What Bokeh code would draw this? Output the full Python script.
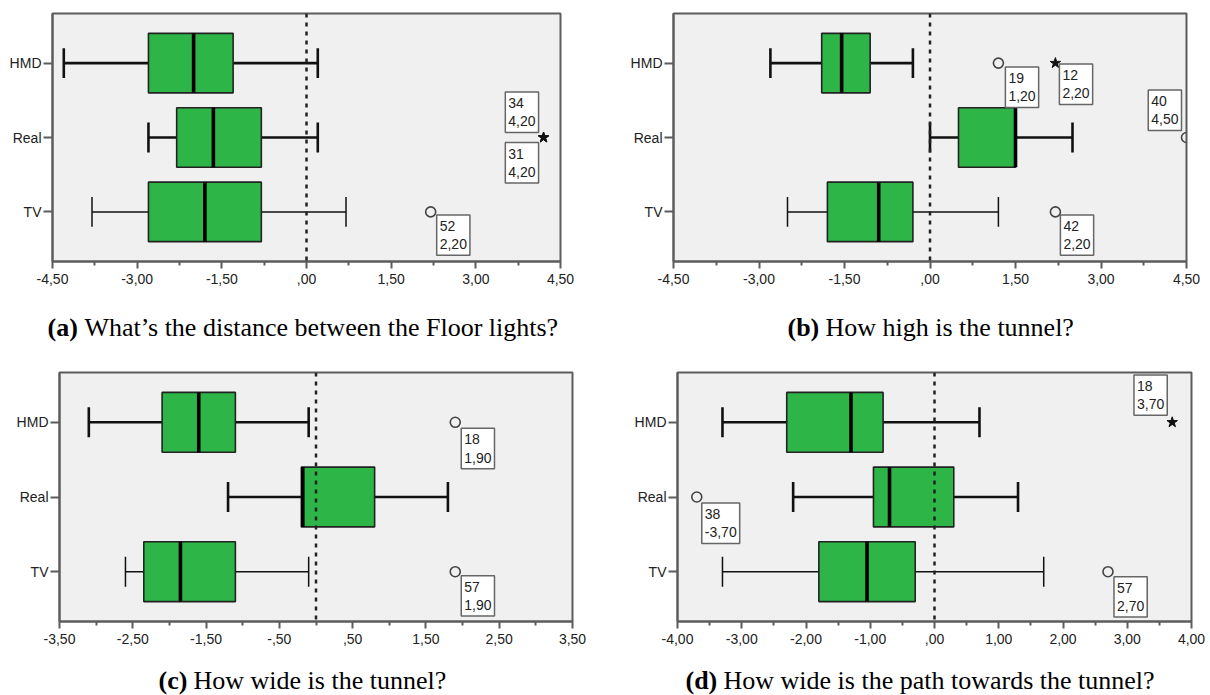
from bokeh.plotting import figure
from bokeh.models import Range1d, FixedTicker, Span, Label
from bokeh.layouts import column, row
from bokeh.embed import file_html
from bokeh.resources import INLINE

# ---------------- data ----------------
groups = ["HMD", "Real", "TV"]

# (a) distance between floor lights
a_whisker_low = [-4.3, -2.8, -3.8]
a_q1 = [-2.8, -2.3, -2.8]
a_median = [-2.0, -1.65, -1.8]
a_q3 = [-1.3, -0.8, -0.8]
a_whisker_high = [0.2, 0.2, 0.7]
a_out_group = ["Real", "Real", "TV"]
a_out_value = [4.2, 4.2, 2.2]
a_out_id = ["34", "31", "52"]
a_out_kind = ["star", "star", "circle"]
a_ticks = [-4.5, -3.0, -1.5, 0.0, 1.5, 3.0, 4.5]
a_tick_labels = ["-4,50", "-3,00", "-1,50", ",00", "1,50", "3,00", "4,50"]
a_tag = "(a)"
a_caption = "What\u2019s the distance between the Floor lights?"

# (b) how high is the tunnel
b_whisker_low = [-2.8, 0.0, -2.5]
b_q1 = [-1.9, 0.5, -1.8]
b_median = [-1.55, 1.5, -0.9]
b_q3 = [-1.05, 1.5, -0.3]
b_whisker_high = [-0.3, 2.5, 1.2]
b_out_group = ["HMD", "HMD", "Real", "TV"]
b_out_value = [1.2, 2.2, 4.5, 2.2]
b_out_id = ["19", "12", "40", "42"]
b_out_kind = ["circle", "star", "circle", "circle"]
b_ticks = [-4.5, -3.0, -1.5, 0.0, 1.5, 3.0, 4.5]
b_tick_labels = ["-4,50", "-3,00", "-1,50", ",00", "1,50", "3,00", "4,50"]
b_tag = "(b)"
b_caption = "How high is the tunnel?"

# (c) how wide is the tunnel
c_whisker_low = [-3.1, -1.2, -2.6]
c_q1 = [-2.1, -0.2, -2.35]
c_median = [-1.6, -0.18, -1.85]
c_q3 = [-1.1, 0.8, -1.1]
c_whisker_high = [-0.1, 1.8, -0.1]
c_out_group = ["HMD", "TV"]
c_out_value = [1.9, 1.9]
c_out_id = ["18", "57"]
c_out_kind = ["circle", "circle"]
c_ticks = [-3.5, -2.5, -1.5, -0.5, 0.5, 1.5, 2.5, 3.5]
c_tick_labels = ["-3,50", "-2,50", "-1,50", "-,50", ",50", "1,50", "2,50", "3,50"]
c_tag = "(c)"
c_caption = "How wide is the tunnel?"

# (d) how wide is the path towards the tunnel
d_whisker_low = [-3.3, -2.2, -3.3]
d_q1 = [-2.3, -0.95, -1.8]
d_median = [-1.3, -0.7, -1.05]
d_q3 = [-0.8, 0.3, -0.3]
d_whisker_high = [0.7, 1.3, 1.7]
d_out_group = ["HMD", "Real", "TV"]
d_out_value = [3.7, -3.7, 2.7]
d_out_id = ["18", "38", "57"]
d_out_kind = ["star", "circle", "circle"]
d_ticks = [-4.0, -3.0, -2.0, -1.0, 0.0, 1.0, 2.0, 3.0, 4.0]
d_tick_labels = ["-4,00", "-3,00", "-2,00", "-1,00", ",00", "1,00", "2,00", "3,00", "4,00"]
d_tag = "(d)"
d_caption = "How wide is the path towards the tunnel?"

# ---------------- layout / style ----------------
GREEN = "#2eb548"
PLOT_BG = "#f0f0f0"
FRAME = "#5c5c5c"
SANS = "Liberation Sans"
SERIF = "Liberation Serif"
whisker_width = {"HMD": 2.6, "Real": 2.6, "TV": 1.5}

# outlier label boxes: (anchor, dx, dy) in pixels, dy positive = up
a_place = [("bottom_right", -5, 5), ("top_right", -5, -5), ("top_left", 6, -3)]
b_place = [("top_left", 7, -4), ("top_left", 4, -1), ("bottom_right", -5, 7), ("top_left", 5, -3)]
c_place = [("top_left", 6, -6), ("top_left", 6, -4)]
d_place = [("bottom_right", -5, 7), ("top_left", 5, -6), ("top_left", 6, -5)]

# plot geometry: width, height, borders
a_geom = dict(w=605, h=300, l=52, r=45, t=13, b=38)
b_geom = dict(w=605, h=300, l=68, r=24, t=9, b=39)
c_geom = dict(w=605, h=310, l=59, r=33, t=27, b=30)
d_geom = dict(w=605, h=310, l=72, r=19, t=24, b=34)

# caption geometry: height, tag x, text x, baseline y from top
a_cap = dict(h=45, tag_x=47, text_x=84, base=27)
b_cap = dict(h=45, tag_x=182, text_x=220, base=27)
c_cap = dict(h=40, tag_x=158, text_x=193, base=25)
d_cap = dict(h=40, tag_x=80, text_x=118, base=25)


def fmt(v):
    s = f"{v:.2f}".replace(".", ",")
    if s.startswith("0,"):
        s = s[1:]
    if s.startswith("-0,"):
        s = "-" + s[2:]
    return s


def make_panel(wl, q1, med, q3, wh, og, ov, oid, okind, ticks, tick_labels,
               place, geom):
    n = len(groups)
    ypos = {g: n - i for i, g in enumerate(groups)}
    ys = [ypos[g] for g in groups]
    p = figure(width=geom["w"], height=geom["h"],
               x_range=Range1d(ticks[0], ticks[-1]),
               y_range=Range1d(1 - 2 / 3, n + 2 / 3),
               output_backend="svg", toolbar_location=None,
               min_border_left=geom["l"], min_border_right=geom["r"],
               min_border_top=geom["t"], min_border_bottom=geom["b"])
    p.background_fill_color = PLOT_BG
    p.border_fill_color = "white"
    p.outline_line_color = FRAME
    p.outline_line_width = 2
    p.xgrid.visible = False
    p.ygrid.visible = False

    minor = [(ticks[i] + ticks[i + 1]) / 2 for i in range(len(ticks) - 1)]
    p.xaxis.ticker = FixedTicker(ticks=ticks, minor_ticks=minor)
    p.xaxis.major_label_overrides = {t: l for t, l in zip(ticks, tick_labels)}
    p.yaxis.ticker = FixedTicker(ticks=ys, minor_ticks=[])
    p.yaxis.major_label_overrides = {ypos[g]: g for g in groups}
    for ax in (p.xaxis[0], p.yaxis[0]):
        ax.axis_line_color = FRAME
        ax.axis_line_width = 2
        ax.major_tick_line_color = FRAME
        ax.minor_tick_line_color = FRAME
        ax.major_tick_line_width = 2
        ax.minor_tick_line_width = 2
        ax.major_tick_in = 0
        ax.minor_tick_in = 0
        ax.major_label_text_font = SANS
        ax.major_label_text_font_size = "14px"
        ax.major_label_text_color = "#222222"
    p.xaxis.major_tick_out = 7
    p.xaxis.minor_tick_out = 4
    p.xaxis.major_label_standoff = 5
    p.yaxis.major_tick_out = 9
    p.yaxis.major_label_standoff = 2

    # whiskers
    for g, lo, a, b, hi in zip(groups, wl, q1, q3, wh):
        y = ypos[g]
        lw = whisker_width[g]
        p.segment(x0=[lo, b], y0=[y, y], x1=[a, hi], y1=[y, y],
                  line_color="#111111", line_width=lw)
        p.segment(x0=[lo, hi], y0=[y - 0.2, y - 0.2], x1=[lo, hi], y1=[y + 0.2, y + 0.2],
                  line_color="#111111", line_width=lw)
    # boxes
    p.hbar(y=ys, left=q1, right=q3, height=0.8, fill_color=GREEN,
           line_color="#222222", line_width=1.6)
    # medians
    p.segment(x0=med, y0=[y - 0.4 for y in ys], x1=med, y1=[y + 0.4 for y in ys],
              line_color="#000000", line_width=3.6)

    # outliers
    cx = [v for v, k in zip(ov, okind) if k == "circle"]
    cy = [ypos[g] for g, k in zip(og, okind) if k == "circle"]
    sx = [v for v, k in zip(ov, okind) if k == "star"]
    sy = [ypos[g] for g, k in zip(og, okind) if k == "star"]
    if cx:
        p.scatter(x=cx, y=cy, marker="circle", size=10, fill_color=None,
                  line_color="#444444", line_width=1.6)
    if sx:
        p.scatter(x=sx, y=sy, marker="star", size=11, fill_color="#111111",
                  line_color="#111111")

    # zero reference line
    p.add_layout(Span(location=0, dimension="height", line_color="#222222",
                      line_width=2.5, line_dash="4 5"))

    # outlier labels
    for g, v, i, (anc, dx, dy) in zip(og, ov, oid, place):
        p.add_layout(Label(x=v, y=ypos[g], text=f"{i}\n{fmt(v)}",
                           x_offset=dx, y_offset=dy, anchor=anc,
                           text_align="left",
                           text_font=SANS, text_font_size="14px",
                           text_color="#222222", text_line_height=1.15,
                           background_fill_color="white",
                           border_line_color="#666666", border_line_width=1.5,
                           padding=3))
    return p


def make_caption(width, cap, tag, caption):
    c = figure(width=width, height=cap["h"], x_range=Range1d(0, width),
               y_range=Range1d(0, cap["h"]), output_backend="svg",
               toolbar_location=None, min_border=0,
               min_border_left=0, min_border_right=0,
               min_border_top=0, min_border_bottom=0)
    c.axis.visible = False
    c.xgrid.visible = False
    c.ygrid.visible = False
    c.outline_line_color = None
    c.background_fill_color = "white"
    c.border_fill_color = "white"
    yb = cap["h"] - cap["base"]
    c.add_layout(Label(x=cap["tag_x"], y=yb, text=tag, text_font=SERIF,
                       text_font_style="bold", text_font_size="26px",
                       text_color="black", text_align="left",
                       text_baseline="alphabetic"))
    c.add_layout(Label(x=cap["text_x"], y=yb, text=caption, text_font=SERIF,
                       text_font_size="26px", text_color="black",
                       text_align="left", text_baseline="alphabetic"))
    return c


pa = make_panel(a_whisker_low, a_q1, a_median, a_q3, a_whisker_high, a_out_group,
                a_out_value, a_out_id, a_out_kind, a_ticks, a_tick_labels,
                a_place, a_geom)
pb = make_panel(b_whisker_low, b_q1, b_median, b_q3, b_whisker_high, b_out_group,
                b_out_value, b_out_id, b_out_kind, b_ticks, b_tick_labels,
                b_place, b_geom)
pc = make_panel(c_whisker_low, c_q1, c_median, c_q3, c_whisker_high, c_out_group,
                c_out_value, c_out_id, c_out_kind, c_ticks, c_tick_labels,
                c_place, c_geom)
pd = make_panel(d_whisker_low, d_q1, d_median, d_q3, d_whisker_high, d_out_group,
                d_out_value, d_out_id, d_out_kind, d_ticks, d_tick_labels,
                d_place, d_geom)

ca = make_caption(605, a_cap, a_tag, a_caption)
cb = make_caption(605, b_cap, b_tag, b_caption)
cc = make_caption(605, c_cap, c_tag, c_caption)
cd = make_caption(605, d_cap, d_tag, d_caption)

layout = column(row(pa, pb), row(ca, cb), row(pc, pd), row(cc, cd))
open("out.html", "w").write(file_html(layout, INLINE))
